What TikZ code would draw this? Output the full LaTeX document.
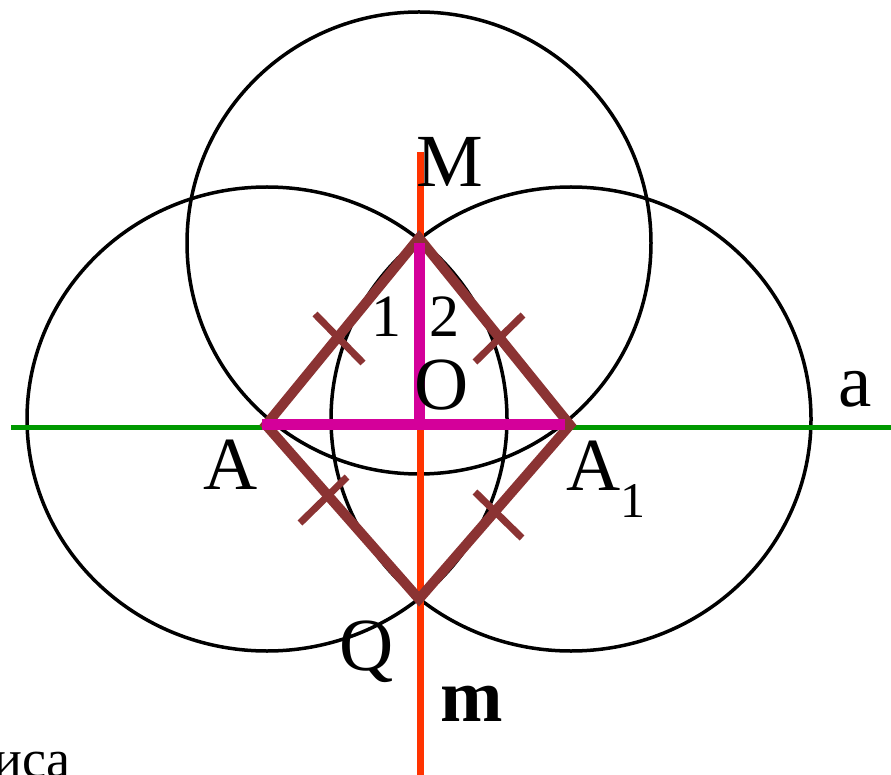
\documentclass[tikz,border=0pt]{standalone}
\usepackage{fontspec}
\setmainfont{Liberation Serif}
\definecolor{lgreen}{RGB}{0,153,0}
\definecolor{lred}{RGB}{255,51,0}
\definecolor{lmag}{RGB}{212,0,154}
\definecolor{lbrown}{RGB}{139,51,51}
\tikzset{
  circ/.style={draw=black, line width=3.5pt},
  lbl/.style={inner sep=0pt, font=\fontsize{75}{75}\selectfont},
  digit/.style={inner sep=0pt, font=\fontsize{60}{60}\selectfont},
  side/.style={draw=lbrown, line width=10pt, line join=miter},
  tick/.style={draw=lbrown, line width=7pt},
}
\begin{document}
\begin{tikzpicture}[x=1pt,y=-1pt]
\useasboundingbox (0,0) rectangle (891,775);
% points
\coordinate (M) at (419,238);
\coordinate (A) at (266,425);
\coordinate (Q) at (419,599);
\coordinate (A1) at (570,425);
\coordinate (O) at (419,424);
\coordinate (Mtop) at (419,243);
\coordinate (aL) at (11,427);
\coordinate (aR) at (891,427);
\coordinate (mT) at (420,152);
\coordinate (mB) at (420,775);
\coordinate (AL) at (262,424);
\coordinate (AR) at (565,424);
% circles
\draw[circ] (267,419) ellipse [x radius=240pt, y radius=232pt];
\draw[circ] (571,419) ellipse [x radius=240pt, y radius=232pt];
\draw[circ] (419,243) ellipse [x radius=232pt, y radius=231pt];
% lines a and m
\draw[lgreen, line width=5pt] (aL) -- (aR);
\draw[lred, line width=7pt] (mT) -- (mB);
% rhombus
\draw[side] (M) -- (A) -- (Q) -- (A1) -- cycle;
% ticks
\coordinate (t1a) at (315,314); \coordinate (t1b) at (363,363);
\coordinate (t2a) at (523,315); \coordinate (t2b) at (475,362);
\coordinate (t3a) at (347,477); \coordinate (t3b) at (300,523);
\coordinate (t4a) at (475,492); \coordinate (t4b) at (522,538);
\draw[tick] (t1a) -- (t1b);
\draw[tick] (t2a) -- (t2b);
\draw[tick] (t3a) -- (t3b);
\draw[tick] (t4a) -- (t4b);
% magenta segments
\draw[lmag, line width=11pt] (Mtop) -- (O);
\draw[lmag, line width=11pt] (AL) -- (AR);
% labels
\node[lbl] (lM) at (450,162) {M};
\node[lbl] (lO) at (442,385) {O};
\node[lbl] (lA) at (231,465) {A};
\node[lbl, anchor=base west] (lA1) at (566,490) {A{\fontsize{50}{50}\selectfont\raisebox{-27pt}{1}}};
\node[lbl, anchor=base] (lQ) at (367,670) {Q};
\node[lbl] (la) at (855,389) {a};
\node[lbl, font=\fontsize{75}{75}\selectfont\bfseries] (lm) at (472,704) {m};
\node[digit] (l1) at (386,317) {1};
\node[digit] (l2) at (444,317) {2};
\node[inner sep=0pt, font=\fontsize{54}{54}\selectfont, anchor=base east] (lbot) at (71,777) {иса};
\end{tikzpicture}
\end{document}
